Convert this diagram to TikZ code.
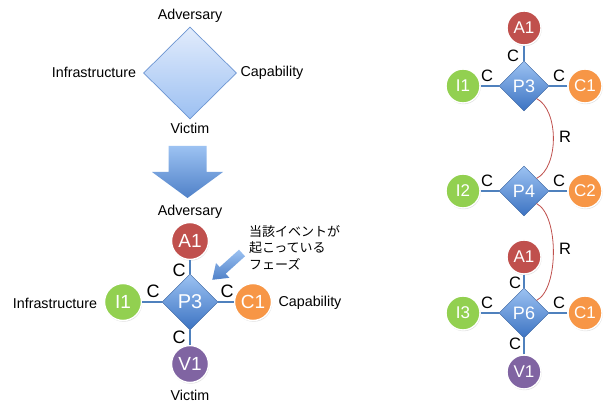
\documentclass[tikz,border=0pt]{standalone}
\usepackage{fontspec}
\setmainfont{Liberation Sans}
\newfontfamily\jpfont{Noto Sans CJK JP}
\usetikzlibrary{shapes.geometric,shadows}
\definecolor{advred}{HTML}{C0504D}
\definecolor{infgreen}{HTML}{92D050}
\definecolor{caporange}{HTML}{F79646}
\definecolor{vicpurple}{HTML}{8064A2}
\definecolor{linkblue}{HTML}{4F81BD}
\definecolor{dtop}{HTML}{9CC2F2}
\definecolor{dbot}{HTML}{3C73C2}
\definecolor{btop}{HTML}{E2ECFC}
\definecolor{bbot}{HTML}{9CC0F2}
\definecolor{bedge}{HTML}{6C95D2}
\definecolor{rline}{HTML}{C0504D}
\begin{document}
\begin{tikzpicture}[x=1pt,y=-1pt,
  lbl/.style={inner sep=0pt,font=\fontsize{14.3}{16}\selectfont},
  vtx/.style={circle,draw=white,line width=1.4pt,inner sep=0pt,text=white,
    drop shadow={opacity=0.25,shadow xshift=0.6pt,shadow yshift=-1.2pt}},
  bigv/.style={vtx,minimum size=37pt,font=\fontsize{19}{20}\selectfont},
  smallv/.style={vtx,minimum size=34pt,font=\fontsize{17}{18}\selectfont},
  advv/.style={fill=advred},
  infv/.style={fill=infgreen},
  capv/.style={fill=caporange},
  vicv/.style={fill=vicpurple},
  phase/.style={diamond,inner sep=0pt,text=white,top color=dtop,bottom color=dbot,draw=dbot!80!black,line width=0.3pt},
  bigphase/.style={phase,minimum width=56pt,minimum height=56pt,font=\fontsize{20}{21}\selectfont},
  smallphase/.style={phase,minimum width=50pt,minimum height=50pt,font=\fontsize{18}{19}\selectfont},
  link/.style={draw=linkblue,line width=2pt},
  rel/.style={draw=rline,line width=0.8pt},
  clbl/.style={inner sep=0pt,font=\fontsize{18}{19}\selectfont},
  sclbl/.style={inner sep=0pt,font=\fontsize{16.5}{17}\selectfont}
]
\useasboundingbox (0,0) rectangle (611,403);
\fill[white] (0,0) rectangle (611,403);

% ---- top generic diamond ----
\node[diamond,minimum width=93pt,minimum height=92pt,inner sep=0pt,top color=btop,bottom color=bbot,draw=bedge,line width=0.7pt] (gen) at (190,73) {};
\node[lbl] (tAdv) at (190,16) {Adversary};
\node[lbl] (tInf) at (94,72) {Infrastructure};
\node[lbl] (tCap) at (272,73) {Capability};
\node[lbl] (tVic) at (190,128) {Victim};

% ---- big down arrow ----
\shade[top color=dtop,bottom color=dbot!90] (168.5,146) -- (206.5,146) -- (206.5,172) -- (223,172) -- (187.5,198) -- (152,172) -- (168.5,172) -- cycle;

% ---- bottom-left event ----
\node[lbl] (bAdv) at (190,212) {Adversary};
\node[bigphase] (P) at (190,302) {P3};
\node[bigv,advv] (A) at (190,241) {A1};
\node[bigv,infv] (I) at (123,302) {I1};
\node[bigv,capv] (C) at (253,302) {C1};
\node[bigv,vicv] (V) at (190,364) {V1};
\node[lbl] (bInf) at (55,303) {Infrastructure};
\node[lbl] (bCap) at (310,303) {Capability};
\node[lbl] (bVic) at (190,395) {Victim};
\draw[link] (A) -- (P);
\draw[link] (I) -- (P);
\draw[link] (C) -- (P);
\draw[link] (V) -- (P);
\node[clbl] at (179,270) {C};
\node[clbl] at (153,291) {C};
\node[clbl] at (227,291) {C};
\node[clbl] at (179,337) {C};

% pointer arrow + note
\shade[top color=dtop,bottom color=dbot!90] (239.0,249.7) -- (219.7,267.1) -- (216.0,263.0) -- (212.3,279.8) -- (229.4,277.8) -- (225.7,273.7) -- (245.0,256.3) -- cycle;
\node[inner sep=0pt,anchor=north west,align=left,font=\jpfont\fontsize{13}{16.5}\selectfont] (note) at (249,225) {当該イベントが\\起こっている\\フェーズ};

% ---- right: activity thread ----
\node[smallphase] (R3) at (524,86) {P3};
\node[smallv,advv] (RA1) at (524,28) {A1};
\node[smallv,infv] (RI1) at (463,86) {I1};
\node[smallv,capv] (RC1) at (585,86) {C1};
\draw[link] (RA1) -- (R3);
\draw[link] (RI1) -- (R3);
\draw[link] (RC1) -- (R3);
\node[sclbl] at (513,56) {C};
\node[sclbl] at (487,76) {C};
\node[sclbl] at (559,76) {C};

\node[smallphase] (R4) at (524,191) {P4};
\node[smallv,infv] (RI2) at (463,191) {I2};
\node[smallv,capv] (RC2) at (585,191) {C2};
\draw[link] (RI2) -- (R4);
\draw[link] (RC2) -- (R4);
\node[sclbl] at (487,181) {C};
\node[sclbl] at (559,181) {C};

\node[smallphase] (R6) at (524,313) {P6};
\node[smallv,advv] (RA2) at (524,257) {A1};
\node[smallv,infv] (RI3) at (463,313) {I3};
\node[smallv,capv] (RC3) at (585,313) {C1};
\node[smallv,vicv] (RV1) at (524,372) {V1};
\draw[link] (RA2) -- (R6);
\draw[link] (RI3) -- (R6);
\draw[link] (RC3) -- (R6);
\draw[link] (RV1) -- (R6);
\node[sclbl] at (515,283) {C};
\node[sclbl] at (487,303) {C};
\node[sclbl] at (559,303) {C};
\node[sclbl] at (515,344) {C};

\draw[rel] (R3.south east) .. controls (559,110) and (559,167) .. (R4.north east);
\draw[rel] (R4.south east) .. controls (559,215) and (559,289) .. (R6.north east);
\node[sclbl] at (565,137) {R};
\node[sclbl] at (565,249) {R};
\end{tikzpicture}
\end{document}
